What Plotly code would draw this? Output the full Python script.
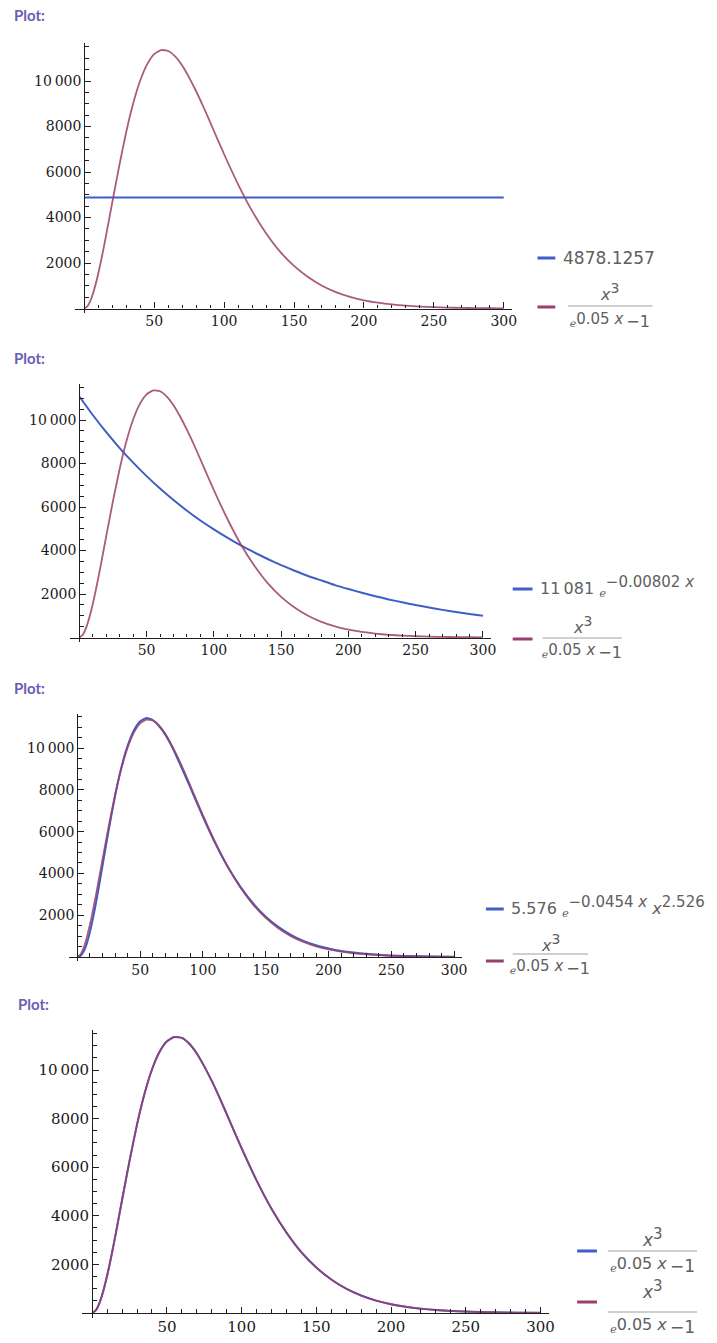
import plotly.graph_objects as go

W, H = 717, 1343

# ---------------- data ----------------
x_vals = [0, 2.5, 5, 7.5, 10, 12.5, 15, 20, 25, 30, 35, 40, 45, 50, 55, 60, 65, 70, 75, 80, 85, 90, 95,
          100, 110, 120, 130, 140, 150, 160, 170, 180, 190, 200, 210, 220, 230, 240,
          250, 260, 270, 280, 290, 300]
red_vals = [0, 117, 440, 927, 1540, 2250, 3020, 4660, 6270, 7760, 9020, 10020, 10740, 11180, 11360, 11320,
            11080, 10680, 10150, 9550, 8890, 8190, 7480, 6780, 5460, 4290, 3310, 2500, 1870,
            1380, 1000, 720, 510, 360, 255, 178, 123, 85, 58, 40, 27, 18, 12, 8]

p1_blue_x = [0, 300]
p1_blue_y = [4878.1257, 4878.1257]

p2_blue_x = [0, 10, 20, 30, 40, 50, 60, 70, 80, 90, 100, 110, 120, 130, 140, 150,
             160, 170, 180, 190, 200, 210, 220, 230, 240, 250, 260, 270, 280, 290, 300]
p2_blue_y = [11081, 10230, 9440, 8710, 8040, 7420, 6850, 6320, 5830, 5380, 4970, 4590,
             4230, 3910, 3610, 3330, 3070, 2830, 2620, 2410, 2230, 2060, 1900, 1750, 1620,
             1490, 1380, 1270, 1170, 1080, 1000]

p3_blue_y = [0, 55, 260, 640, 1190, 1860, 2640, 4350, 6090, 7690, 9050, 10100, 10840, 11280, 11440, 11340,
             11050, 10640, 10100, 9460, 8790, 8100, 7400, 6710, 5420, 4290, 3340, 2560, 1930,
             1440, 1060, 770, 560, 410, 290, 210, 150, 105, 75, 52, 36, 25, 17, 12]

p4_blue_y = [0, 117, 440, 927, 1540, 2250, 3020, 4660, 6270, 7760, 9020, 10020, 10740, 11180, 11360, 11320,
             11080, 10680, 10150, 9550, 8890, 8190, 7480, 6780, 5460, 4290, 3310, 2500, 1870,
             1380, 1000, 720, 510, 360, 255, 178, 123, 85, 58, 40, 27, 18, 12, 8]

x_ticks = [50, 100, 150, 200, 250, 300]
x_minor = [v for v in range(10, 310, 10) if v % 50 != 0]
y_ticks = [2000, 4000, 6000, 8000, 10000]
y_tick_text = ["2000", "4000", "6000", "8000", "10\u2009000"]
y_minor = [v for v in range(500, 11700, 500) if v % 2000 != 0]

BLUE = "#3f5fc6"
RED = "#9a3f6c"
AX = "#1e1e1e"
LEG = "#606060"
TITLE = "#6a5eb4"

# ---------------- panel geometry (pixels) ----------------
panels = [
    dict(x0=85, sx=(508 - 85) / 300, y0=308.5, sy=0.02275, blue_x=p1_blue_x, blue_y=p1_blue_y, fs=14),
    dict(x0=80, sx=(487 - 80) / 300, y0=637.5, sy=0.02175, blue_x=p2_blue_x, blue_y=p2_blue_y, fs=14),
    dict(x0=78, sx=(458 - 78) / 300, y0=957.0, sy=0.0209, blue_x=x_vals, blue_y=p3_blue_y, fs=14),
    dict(x0=93, sx=(545 - 93) / 300, y0=1313.0, sy=0.0243, blue_x=x_vals, blue_y=p4_blue_y, fs=15),
]


def fx(px):
    return px / W


def fy(py):
    return 1 - py / H


XMIN, XMAX = -7, 306
YMIN, YMAX = -200, 11650

fig = go.Figure()
layout = dict(
    width=W, height=H, margin=dict(l=0, r=0, t=0, b=0),
    paper_bgcolor="white", plot_bgcolor="white", showlegend=False,
)

for i, p in enumerate(panels):
    n = "" if i == 0 else str(i + 1)
    xd = [fx(p["x0"] + XMIN * p["sx"]), fx(p["x0"] + XMAX * p["sx"])]
    yd = [fy(p["y0"] - YMIN * p["sy"]), fy(p["y0"] - YMAX * p["sy"])]
    tickfont = dict(family="DejaVu Serif", size=p["fs"], color="#1a1a1a")
    layout["xaxis" + n] = dict(
        domain=xd, range=[XMIN, XMAX], anchor="free", position=fy(p["y0"]),
        showline=True, linecolor=AX, linewidth=1.2, showgrid=False, zeroline=False,
        tickmode="array", tickvals=x_ticks, ticktext=[str(v) for v in x_ticks],
        ticks="inside", ticklen=6, tickwidth=1.1, tickcolor=AX, tickfont=tickfont,
        minor=dict(tickvals=x_minor, ticks="inside", ticklen=3.5, tickwidth=1, tickcolor=AX),
        fixedrange=True,
    )
    layout["yaxis" + n] = dict(
        domain=yd, range=[YMIN, YMAX], anchor="free", position=fx(p["x0"]),
        showline=True, linecolor=AX, linewidth=1.2, showgrid=False, zeroline=False,
        tickmode="array", tickvals=y_ticks, ticktext=y_tick_text,
        ticks="inside", ticklen=6, tickwidth=1.1, tickcolor=AX, tickfont=tickfont,
        minor=dict(tickvals=y_minor, ticks="inside", ticklen=3.5, tickwidth=1, tickcolor=AX),
        fixedrange=True,
    )
    xa = "x" + n
    ya = "y" + n
    fig.add_trace(go.Scatter(x=p["blue_x"], y=p["blue_y"], mode="lines",
                             line=dict(color=BLUE, width=2, shape="spline", smoothing=0.5),
                             xaxis=xa, yaxis=ya))
    fig.add_trace(go.Scatter(x=x_vals, y=red_vals, mode="lines", opacity=0.85,
                             line=dict(color=RED, width=1.8, shape="spline", smoothing=0.5),
                             xaxis=xa, yaxis=ya))

fig.update_layout(**layout)

shapes = []
annotations = []

# "Plot:" titles
for (tx, ty) in [(12, 15), (12, 358), (12, 688), (16, 1004)]:
    annotations.append(dict(x=fx(tx), y=fy(ty), xref="paper", yref="paper", xanchor="left",
                            yanchor="middle", showarrow=False, text="<b>Plot:</b>",
                            font=dict(family="Lato", size=15, color=TITLE)))


def leg_line(x1, x2, y, color):
    shapes.append(dict(type="line", xref="paper", yref="paper", x0=fx(x1), x1=fx(x2),
                       y0=fy(y), y1=fy(y), line=dict(color=color, width=3)))


def leg_text(x, y, text, size=17):
    annotations.append(dict(x=fx(x), y=fy(y), xref="paper", yref="paper", xanchor="left",
                            yanchor="middle", showarrow=False, text=text,
                            font=dict(family="DejaVu Sans", size=size, color=LEG)))


def fraction(cx, y_num, y_bar, y_den, bx1, bx2, size=16):
    annotations.append(dict(x=fx(cx), y=fy(y_num), xref="paper", yref="paper", xanchor="center",
                            yanchor="middle", showarrow=False,
                            text="<i>x</i><sup><span style='font-size:%dpx'>3</span></sup>" % (size - 2),
                            font=dict(family="DejaVu Sans", size=size, color=LEG)))
    shapes.append(dict(type="line", xref="paper", yref="paper", x0=fx(bx1), x1=fx(bx2),
                       y0=fy(y_bar), y1=fy(y_bar), line=dict(color="#a0a0a0", width=1)))
    annotations.append(dict(x=fx(cx), y=fy(y_den), xref="paper", yref="paper", xanchor="center",
                            yanchor="middle", showarrow=False,
                            text="<sub>\u212f</sub>0.05 <i>x</i>\u2009<sub><span style='font-size:%dpx'>\u22121</span></sub>" % size,
                            font=dict(family="DejaVu Sans", size=size - 1, color=LEG)))


# panel 1 legend
leg_line(542, 560, 258, BLUE)
leg_text(566, 258, "4878.1257")
leg_line(542, 560, 307, RED)
fraction(615, 292, 306, 320, 573, 658)

# panel 2 legend
leg_line(517, 537, 589, BLUE)
leg_text(543, 586, "11\u2009081 <sub>\u212f</sub><sup><span style='font-size:15px'>\u22120.00802 <i>x</i></span></sup>", size=16)
leg_line(517, 537, 639, RED)
fraction(587, 625, 638, 651, 547, 627)

# panel 3 legend
leg_line(490, 508, 909, BLUE)
leg_text(513, 906, "5.576 <sub>\u212f</sub><sup><span style='font-size:15px'>\u22120.0454 <i>x</i></span></sup> <i>x</i><sup><span style='font-size:15px'>2.526</span></sup>", size=16)
leg_line(490, 508, 961, RED)
fraction(555, 943, 954, 967, 517, 593)

# panel 4 legend
leg_line(582, 602, 1251, BLUE)
fraction(658, 1237, 1251, 1265, 613, 703, size=17)
leg_line(582, 602, 1302, RED)
fraction(658, 1289, 1312, 1326, 613, 703, size=17)

fig.update_layout(shapes=shapes, annotations=annotations)
fig.write_html("out.html")
